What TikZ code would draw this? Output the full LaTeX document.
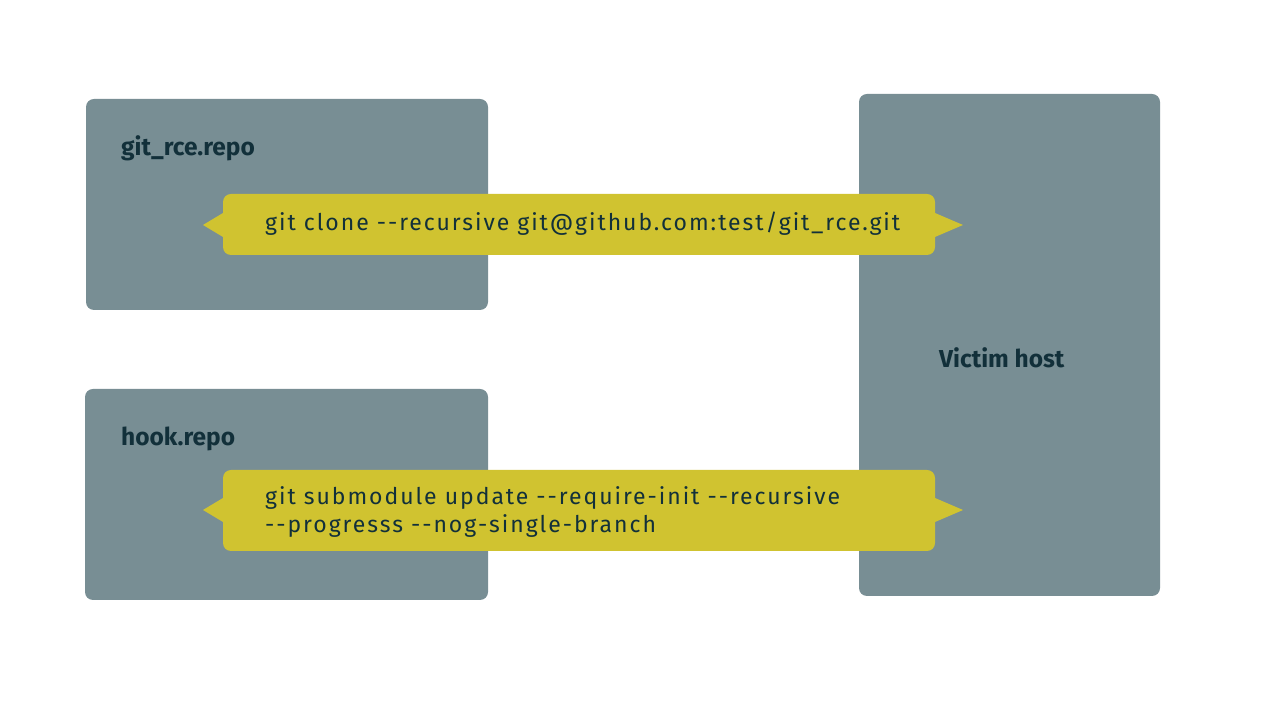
\documentclass[tikz,border=0pt]{standalone}
\usepackage{fontspec}
\setmainfont{Fira Sans}
\newfontfamily\cmdfont[LetterSpace=8.5]{Fira Sans}
\definecolor{boxgray}{HTML}{788E94}
\definecolor{bandyellow}{HTML}{D0C330}
\definecolor{darktext}{HTML}{12303A}
\begin{document}
\begin{tikzpicture}[x=1pt,y=1pt,
  panel/.style={fill=boxgray, rounded corners=8pt, draw=none},
  band/.style={fill=bandyellow, rounded corners=8pt, draw=none},
  tip/.style={fill=bandyellow, draw=none},
  title/.style={font=\fontsize{24.5}{28}\selectfont\bfseries, text=darktext, anchor=base west, inner sep=0pt},
  cmd/.style={font=\cmdfont\fontsize{23}{28}\selectfont, text=darktext, anchor=base west, inner sep=0pt, align=left}]
\useasboundingbox (0,0) rectangle (1280,720);
\fill[white] (0,0) rectangle (1280,720);
% panels
\path[panel] (86,410) rectangle (488,621);
\path[panel] (85,120) rectangle (488,331);
\path[panel] (859,124) rectangle (1160,626);
\node[title] (t1) at (121,564) {git\_rce.repo};
\node[title] (t2) at (121,274) {hook.repo};
\node[title] (t3) at (939,352) {Victim host};
% bands
\path[band] (223,465) rectangle (935,526);
\path[band] (223,169) rectangle (935,250);
\coordinate (b1l) at (223,495);
\coordinate (b1r) at (935,495);
\coordinate (b2l) at (223,210);
\coordinate (b2r) at (935,210);
\fill[tip] ([yshift=12pt]b1l) -- ([xshift=-20pt]b1l) -- ([yshift=-12pt]b1l) -- cycle;
\fill[tip] ([yshift=12pt]b1r) -- ([xshift=28pt]b1r) -- ([yshift=-12pt]b1r) -- cycle;
\fill[tip] ([yshift=12pt]b2l) -- ([xshift=-20pt]b2l) -- ([yshift=-12pt]b2l) -- cycle;
\fill[tip] ([yshift=12pt]b2r) -- ([xshift=28pt]b2r) -- ([yshift=-12pt]b2r) -- cycle;
\node[cmd] (c1) at (265,489) {git clone -{}-recursive git@github.com:test/git\_rce.git};
\node[cmd] (c2) at (265,187) {git submodule update -{}-require-init -{}-recursive\\-{}-progresss -{}-nog-single-branch};
\end{tikzpicture}
\end{document}
